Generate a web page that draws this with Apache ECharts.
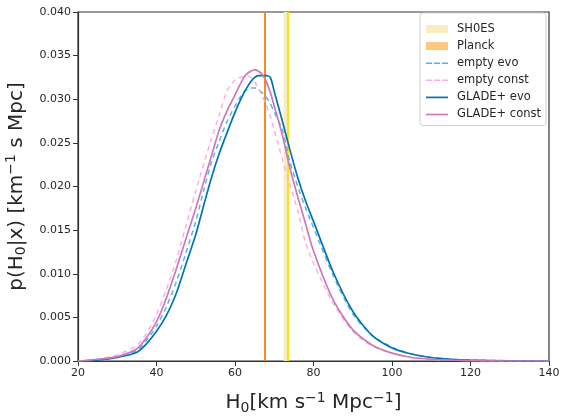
<!DOCTYPE html>
<html>
<head>
<meta charset="utf-8">
<script src="https://cdn.jsdelivr.net/npm/echarts@6/dist/echarts.min.js"></script>
<style>html,body{margin:0;padding:0;background:#fff}#c{width:563px;height:416px}</style>
</head>
<body>
<div id="c"></div>
<script>
const H = [20,25,30,35,37.5,40,42.5,45,47.5,50,52,54,56,58,60,62,63,64,65,66,67,68,69,70,72,74,76,78,80,85,90,95,100,105,110,115,120,130,140];
const gladeEvo = [0,.0001,.0004,.0010,.0020,.0034,.0052,.0077,.0111,.0145,.0178,.0210,.0238,.0262,.0285,.0305,.0313,.0320,.0325,.0327,.0327,.0327,.0325,.0309,.0276,.0242,.0210,.0183,.0160,.0102,.0057,.0029,.0015,.0008,.0004,.0002,.0001,.00003,0];
const gladeConst = [0,.0002,.0005,.0014,.0027,.0045,.0072,.0105,.0140,.0175,.0205,.0235,.0265,.0287,.0305,.0323,.0329,.0332,.0334,.0332,.0328,.0320,.0308,.0292,.0260,.0221,.0188,.0157,.0126,.0070,.0036,.0018,.0009,.0004,.0002,.0001,.00005,0,0];
const emptyEvo = [0,.0001,.0005,.0012,.0024,.0040,.0062,.0090,.0124,.0160,.0195,.0228,.0252,.0275,.0292,.0307,.0311,.0313,.0313,.0311,.0307,.0302,.0295,.0285,.0266,.0228,.0200,.0175,.0153,.0098,.0054,.0029,.0016,.0008,.0004,.0002,.0001,.00003,0];
const emptyConst = [0,.0002,.0007,.0018,.0032,.0053,.0082,.0115,.0155,.0195,.0225,.0255,.0282,.0310,.0322,.0326,.0327,.0325,.0320,.0312,.0303,.0293,.0280,.0265,.0232,.0202,.0172,.0135,.0112,.0066,.0034,.0017,.0009,.0004,.0002,.0001,.00005,0,0];
const shoesBand = [72.4, 73.25];
const shoesLine = [73.25, 73.8];
const planckH = 67.5;
const xTicks = {min:20, max:140, interval:20};
const yTicks = {min:0, max:0.04, interval:0.005};

const pairs = arr => H.map((h,i)=>[h, arr[i]]);
const F = 'DejaVu Sans';
const TC = '#262626';
const chart = echarts.init(document.getElementById('c'), null, {renderer:'canvas'});
const DASH_ICON = 'path://M0,0h6v1.6h-6z M8,0h6v1.6h-6z M16,0h6v1.6h-6z';
const SOLID_ICON = 'path://M0,0h22v1.7h-22z';
const lineSeries = (name, arr, color, type, width) => ({
  name, type:'line', data: pairs(arr), symbol:'none', showSymbol:false, smooth:0.25,
  lineStyle:{color, width, type}, itemStyle:{color}, z:5, animation:false
});
const rich = {
  a:{fontFamily:F, fontSize:20, color:TC, lineHeight:24},
  sub:{fontFamily:F, fontSize:14, color:TC, lineHeight:14, verticalAlign:'bottom'},
  sup:{fontFamily:F, fontSize:14, color:TC, lineHeight:14, verticalAlign:'top'}
};
chart.setOption({
  animation:false,
  grid:{left:78, right:14, top:12, bottom:55, outerBoundsMode:'none', containLabel:false,
    show:true, borderColor:'#333', borderWidth:1.2, backgroundColor:'transparent'},
  xAxis:{type:'value', min:xTicks.min, max:xTicks.max, interval:xTicks.interval,
    name:'{a|H}{sub|0}{a|[km s}{sup|−1}{a| Mpc}{sup|−1}{a|]}', nameLocation:'middle', nameGap:30,
    nameTextStyle:{fontFamily:F, fontSize:20, color:TC, rich},
    axisLine:{lineStyle:{color:'#333', width:1.2}}, axisTick:{show:true, length:5, lineStyle:{color:'#333'}},
    axisLabel:{fontFamily:F, fontSize:11, color:TC, margin:7}, splitLine:{show:false}},
  yAxis:{type:'value', min:yTicks.min, max:yTicks.max, interval:yTicks.interval,
    name:'{a|p(H}{sub|0}{a||x) [km}{sup|−1}{a| s Mpc]}', nameLocation:'middle', nameGap:47, nameRotate:90,
    nameTextStyle:{fontFamily:F, fontSize:20, color:TC, rich},
    axisLine:{show:true, lineStyle:{color:'#333', width:1.2}}, axisTick:{show:true, length:5, lineStyle:{color:'#333'}},
    axisLabel:{fontFamily:F, fontSize:11, color:TC, margin:7, formatter:v=>v.toFixed(3)}, splitLine:{show:false}},
  legend:{orient:'vertical', right:17, top:13, itemWidth:22, itemHeight:8, itemGap:5.1,
    backgroundColor:'rgba(255,255,255,0.9)', borderColor:'#d0d0d0', borderWidth:1, borderRadius:3,
    padding:[10,5,5,6], textStyle:{fontFamily:F, fontSize:11.5, color:TC, padding:[0,0,0,4]},
    data:[
      {name:'SH0ES', icon:'rect', itemStyle:{color:'#f6eebf'}},
      {name:'Planck', icon:'rect', itemStyle:{color:'#fdc97c'}},
      {name:'empty evo', icon:DASH_ICON, itemStyle:{color:'#56b4e9'}},
      {name:'empty const', icon:DASH_ICON, itemStyle:{color:'#fbafe4'}},
      {name:'GLADE+ evo', icon:SOLID_ICON, itemStyle:{color:'#0173b2'}},
      {name:'GLADE+ const', icon:SOLID_ICON, itemStyle:{color:'#cc78bc'}}
    ]},
  series:[
    {name:'SH0ES', type:'line', data:[], itemStyle:{color:'#f6eebf'}, z:1,
      markArea:{silent:true, data:[
        [{xAxis:shoesBand[0], itemStyle:{color:'#f6eebf'}},{xAxis:shoesBand[1]}],
        [{xAxis:shoesLine[0], itemStyle:{color:'#fde01f'}},{xAxis:shoesLine[1]}]
      ]}},
    {name:'Planck', type:'line', data:[], itemStyle:{color:'#fdc97c'}, z:1,
      markLine:{silent:true, symbol:'none', label:{show:false},
        lineStyle:{color:'#f98a1c', width:2, type:'solid'}, data:[{xAxis:planckH}]}},
    lineSeries('empty evo', emptyEvo, '#56b4e9', [5,4], 1.5),
    lineSeries('empty const', emptyConst, '#fbafe4', [5,4], 1.5),
    lineSeries('GLADE+ evo', gladeEvo, '#0173b2', 'solid', 1.7),
    lineSeries('GLADE+ const', gladeConst, '#cc78bc', 'solid', 1.7)
  ]
});
</script>
</body>
</html>
